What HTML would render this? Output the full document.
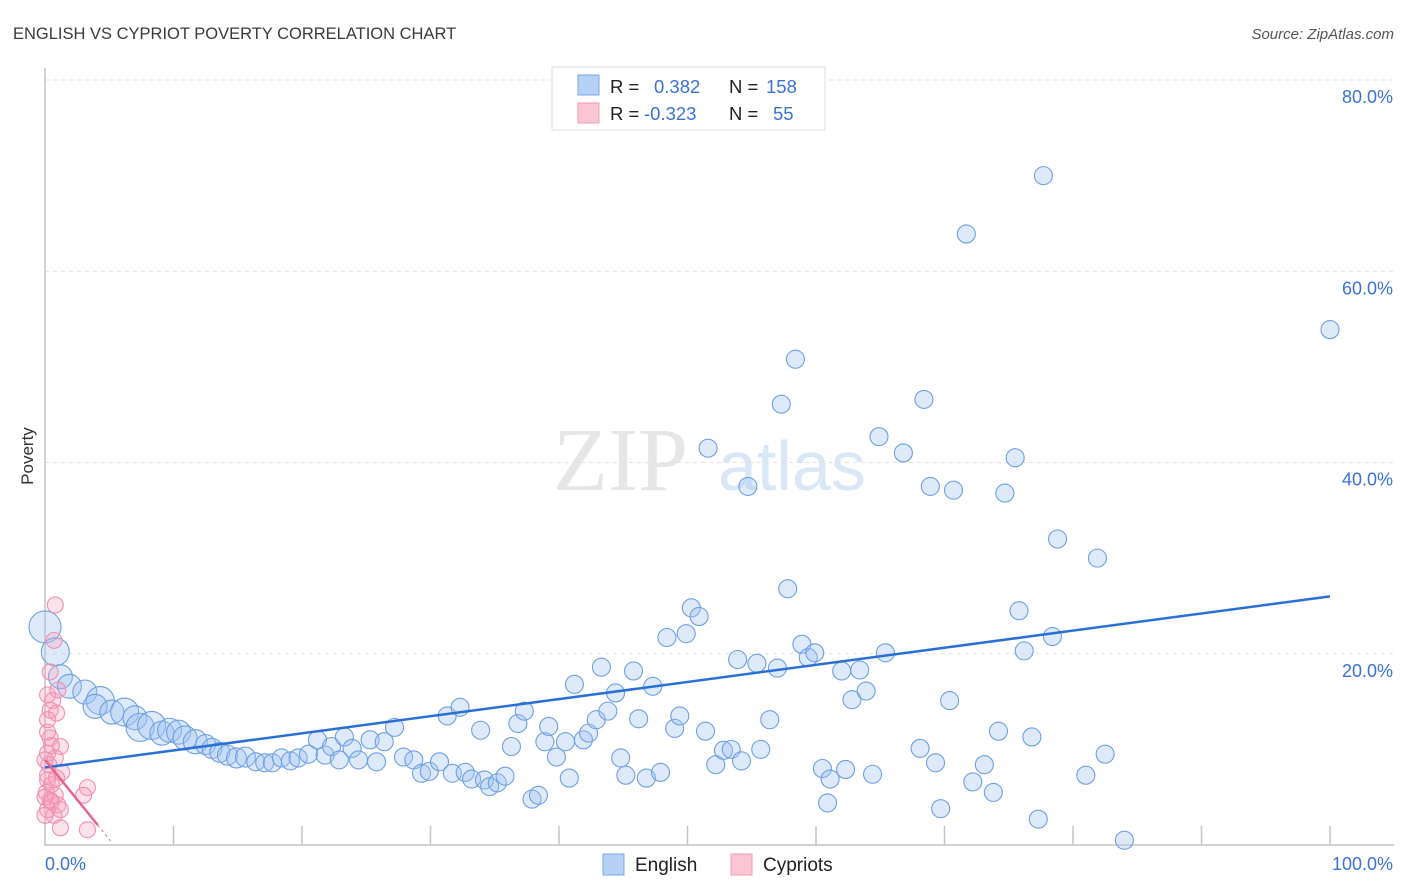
<!DOCTYPE html>
<html><head><meta charset="utf-8"><style>
body{margin:0;background:#fff;font-family:"Liberation Sans",sans-serif}
svg{display:block}
</style></head><body>
<svg id="c" width="1406" height="892">
<text x="13" y="39" font-size="16.5" fill="#3a3a3a">ENGLISH VS CYPRIOT POVERTY CORRELATION CHART</text>
<text x="1394" y="39" font-size="15" fill="#555" font-style="italic" text-anchor="end">Source: ZipAtlas.com</text>
<text x="33" y="456" font-size="17" fill="#333" transform="rotate(-90 33 456)" text-anchor="middle">Poverty</text>
<g><text x="553" y="490" font-size="90" fill="#e6e6e6" font-family="Liberation Serif,serif">ZIP</text><text x="718" y="490" font-size="70" fill="#dae7f7">atlas</text></g>
<g id="grid"></g><g id="marks"></g>
<g>
<rect x="552" y="67" width="273" height="63" fill="#fff" stroke="#ddd"/>
<rect x="578" y="75" width="21" height="20" fill="#b7d0f5" stroke="#7aa7e6"/>
<rect x="578" y="103" width="21" height="20" fill="#fbc6d4" stroke="#f09ab3"/>
<text x="610" y="93" font-size="18.5" fill="#222">R =</text><text x="654" y="93" font-size="18.5" fill="#3a72d6">0.382</text>
<text x="729" y="93" font-size="18.5" fill="#222">N =</text><text x="766" y="93" font-size="18.5" fill="#3a72d6">158</text>
<text x="610" y="120" font-size="18.5" fill="#222">R =</text><text x="644" y="120" font-size="18.5" fill="#3a72d6">-0.323</text>
<text x="729" y="120" font-size="18.5" fill="#222">N =</text><text x="773" y="120" font-size="18.5" fill="#3a72d6">55</text>
</g>
<g>
<rect x="603" y="854" width="21" height="21" fill="#b7d0f5" stroke="#7aa7e6"/><text x="635" y="871" font-size="19" fill="#222">English</text>
<rect x="731" y="854" width="21" height="21" fill="#fbc6d4" stroke="#f09ab3"/><text x="763" y="871" font-size="19" fill="#222">Cypriots</text>
</g>
</svg>
<script>
const yTicks=[20,40,60,80];
const yTickLabels=["20.0%","40.0%","60.0%","80.0%"];
const englishX=[0,0.8,1.2,1.9,3.1,4.3,3.9,5.2,6.2,7.0,7.4,8.3,9.1,9.7,10.4,10.9,11.7,12.5,13.0,13.6,14.2,14.9,15.6,16.4,17.1,17.7,18.4,19.1,19.7,20.5,21.2,21.8,22.3,22.9,23.3,23.9,24.4,25.3,25.8,26.4,27.2,27.9,28.7,29.3,29.9,30.7,31.3,32.3,31.7,32.7,33.2,33.9,34.2,34.6,35.2,35.8,36.3,36.8,37.3,37.9,38.4,38.9,39.2,39.8,40.5,40.8,41.2,41.9,42.3,42.9,43.3,43.8,44.4,44.8,45.2,45.8,46.2,46.8,47.3,47.9,48.4,49.0,49.4,49.9,50.3,50.9,51.4,51.6,52.2,52.8,53.4,53.9,54.2,54.7,55.4,55.7,56.4,57.0,57.3,57.8,58.4,58.9,59.4,59.9,60.5,60.9,61.1,62.0,62.3,62.8,63.4,63.9,64.4,64.9,65.4,66.8,68.1,68.4,68.9,69.3,69.7,70.4,70.7,71.7,72.2,73.1,73.8,74.2,74.7,75.5,75.8,76.2,76.8,77.3,77.7,78.4,78.8,81.0,81.9,82.5,84.0,100];
const englishY=[22.8,20.2,17.6,16.6,16.0,15.1,14.5,13.9,13.9,13.3,12.3,12.5,11.7,12.0,11.8,11.2,10.8,10.5,10.1,9.7,9.4,9.1,9.2,8.7,8.6,8.6,9.1,8.8,9.1,9.5,11.0,9.4,10.3,8.9,11.3,10.1,8.9,11.0,8.7,10.8,12.3,9.2,8.9,7.5,7.7,8.7,13.5,14.4,7.5,7.6,6.9,12.0,6.8,6.1,6.5,7.2,10.3,12.7,14.0,4.8,5.2,10.8,12.4,9.2,10.8,7.0,16.8,11.0,11.7,13.1,18.6,14.0,15.9,9.1,7.3,18.2,13.2,7.0,16.6,7.6,21.7,12.2,13.5,22.1,24.8,23.9,11.9,41.5,8.4,9.9,10.0,19.4,8.8,37.5,19.0,10.0,13.1,18.5,46.1,26.8,50.8,21.0,19.6,20.1,8.0,4.4,6.9,18.2,7.9,15.2,18.3,16.1,7.4,42.7,20.1,41.0,10.1,46.6,37.5,8.6,3.8,15.1,37.1,63.9,6.6,8.4,5.5,11.9,36.8,40.5,24.5,20.3,11.3,2.7,70.0,21.8,32.0,7.3,30.0,9.5,0.5,53.9];
const englishR=[16,14,12,12,12,14,12,12,14,12,14,14,12,12,12,12,12,10,10,10,10,10,10,9,9,9,9,9,9,9];
const cypriotX=[0.8,0.7,0.4,0.2,0.6,0.4,0.9,0.2,0.4,0.5,1.2,0.2,0.8,0.3,1.3,0.2,0.5,0.1,0.8,0.4,1.0,0.2,0.7,1.2,3.3,3.0,3.3,0,0.2,1.0,0.2,0.9,0,0.5,0,1.2];
const cypriotY=[25.1,21.4,18.1,15.7,15.1,14.1,13.8,11.8,11.2,10.4,10.3,9.6,9.1,8.4,7.6,6.8,6.3,5.5,5.2,4.7,4.2,3.7,3.1,1.8,6.0,5.2,1.6,8.9,13.1,16.2,7.3,7.0,5.0,4.5,3.1,3.7];
const englishTrend=[8.1,26.0];
const cypriotTrend=[8.9,-1.66];
const X0=45,X1=1330,Y0=845,Y80=80;
const sx=v=>X0+(X1-X0)*v/100, sy=v=>Y0-(Y0-Y80)*v/80;
const NS="http://www.w3.org/2000/svg";
const grid=document.getElementById('grid'),marks=document.getElementById('marks');
function mk(tag,at,parent){const e=document.createElementNS(NS,tag);for(const k in at)e.setAttribute(k,at[k]);parent.appendChild(e);return e;}
yTicks.forEach((t,i)=>{
 const l=mk('line',{x1:X0,x2:1394,y1:sy(t),y2:sy(t),stroke:'#e2e2e2','stroke-dasharray':'4 4'},grid);
 
 
 const tx=mk('text',{x:1393,y:sy(t)+23,'font-size':18,fill:'#3a72d6','text-anchor':'end'},grid);
 tx.textContent=yTickLabels[i];
 
 
});
const ax=mk('path',{d:`M${X0} 68V${Y0}H1394`,fill:'none',stroke:'#c4c4c4','stroke-width':1.5},grid);


for(let i=1;i<=10;i++){const t=mk('line',{x1:sx(i*10),x2:sx(i*10),y1:Y0,y2:Y0-19,stroke:'#c4c4c4','stroke-width':1.5},grid);
 
 }
const xl=mk('text',{x:45,y:870,'font-size':18,fill:'#3a72d6'},grid);xl.textContent='0.0%';


const xr=mk('text',{x:1393,y:870,'font-size':18,fill:'#3a72d6','text-anchor':'end'},grid);xr.textContent='100.0%';


englishX.forEach((x,i)=>{const c=mk('circle',{cx:sx(x),cy:sy(englishY[i]),r:englishR[i]||9,fill:'rgba(160,196,242,0.35)',stroke:'#6f9fe2','stroke-width':1.1},marks);
 
 });
cypriotX.forEach((x,i)=>{const c=mk('circle',{cx:sx(x),cy:sy(cypriotY[i]),r:8,fill:'rgba(245,160,188,0.3)',stroke:'#f090ae','stroke-width':1.1},marks);
 
 });
const bt=mk('line',{x1:sx(0),y1:sy(englishTrend[0]),x2:sx(100),y2:sy(englishTrend[1]),stroke:'#2a6fd6','stroke-width':2.5},marks);


const pt=mk('line',{x1:sx(0),y1:sy(cypriotTrend[0]),x2:sx(4.1),y2:sy(cypriotTrend[0]+cypriotTrend[1]*4.1),stroke:'#e5658c','stroke-width':2.5},marks);


const pd=mk('line',{x1:sx(4.1),y1:sy(cypriotTrend[0]+cypriotTrend[1]*4.1),x2:sx(5.1),y2:sy(cypriotTrend[0]+cypriotTrend[1]*5.1),stroke:'#e5658c','stroke-width':1,'stroke-dasharray':'3 3'},marks);


</script>
</body></html>
